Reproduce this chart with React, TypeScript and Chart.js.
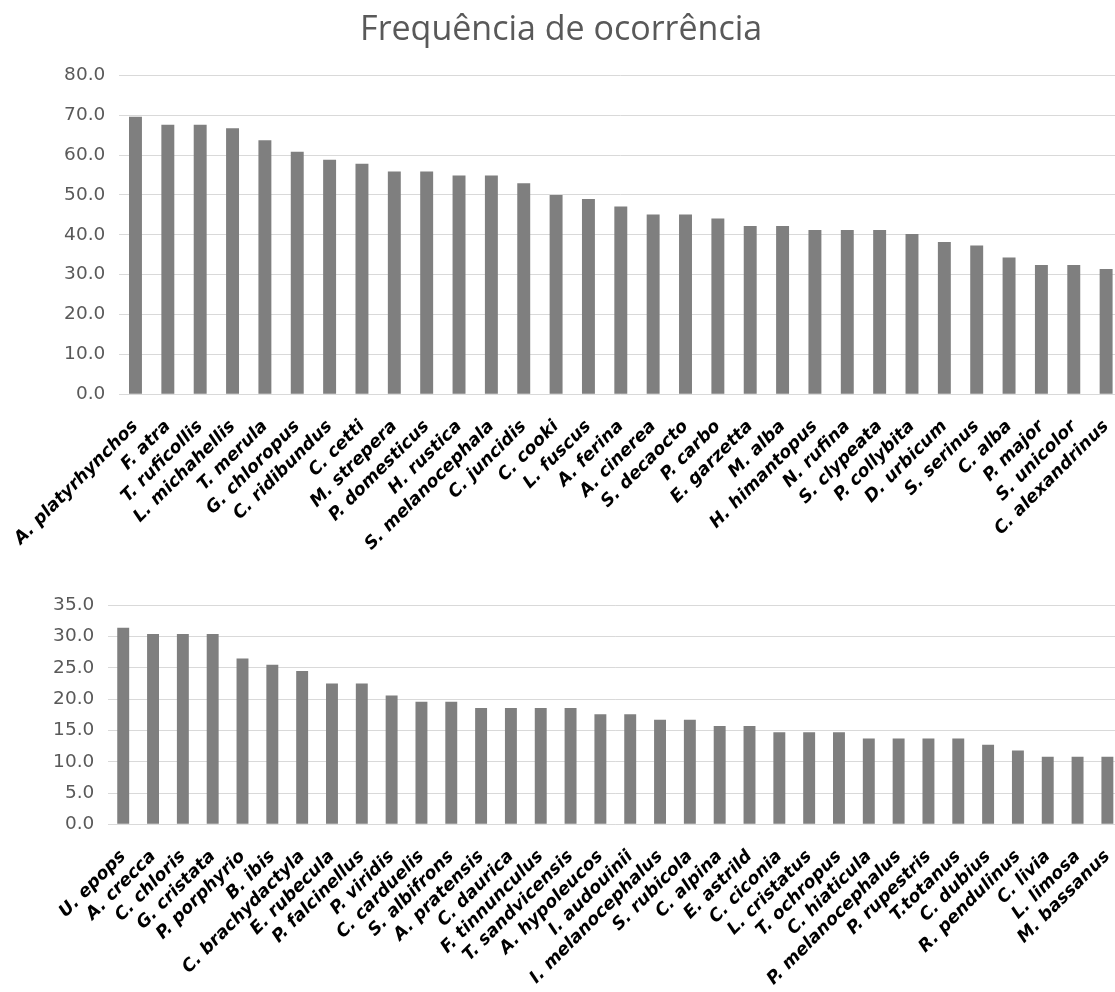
import React, { useEffect, useRef } from "react";
import { Chart, registerables } from "chart.js";

Chart.register(...registerables);

const chartTitle = "Frequência de ocorrência";

const topSpecies = [
  "A. platyrhynchos", "F. atra", "T. ruficollis", "L. michahellis", "T. merula",
  "G. chloropus", "C. ridibundus", "C. cetti", "M. strepera", "P. domesticus",
  "H. rustica", "S. melanocephala", "C. juncidis", "C. cooki", "L. fuscus",
  "A. ferina", "A. cinerea", "S. decaocto", "P. carbo", "E. garzetta",
  "M. alba", "H. himantopus", "N. rufina", "S. clypeata", "P. collybita",
  "D. urbicum", "S. serinus", "C. alba", "P. major", "S. unicolor",
  "C. alexandrinus",
];
const topValues = [
  69.6, 67.6, 67.6, 66.7, 63.7, 60.8, 58.8, 57.8, 55.9, 55.9,
  54.9, 54.9, 52.9, 50.0, 49.0, 47.1, 45.1, 45.1, 44.1, 42.2,
  42.2, 41.2, 41.2, 41.2, 40.2, 38.2, 37.3, 34.3, 32.4, 32.4,
  31.4,
];
const topAxisMax = 80;
const topAxisStep = 10;

const bottomSpecies = [
  "U. epops", "A. crecca", "C. chloris", "G. cristata", "P. porphyrio",
  "B. ibis", "C. brachydactyla", "E. rubecula", "P. falcinellus", "P. viridis",
  "C. carduelis", "S. albifrons", "A. pratensis", "C. daurica", "F. tinnunculus",
  "T. sandvicensis", "A. hypoleucos", "I. audouinii", "I. melanocephalus", "S. rubicola",
  "C. alpina", "E. astrild", "C. ciconia", "L. cristatus", "T. ochropus",
  "C. hiaticula", "P. melanocephalus", "P. rupestris", "T.totanus", "C. dubius",
  "R. pendulinus", "C. livia", "L. limosa", "M. bassanus",
];
const bottomValues = [
  31.4, 30.4, 30.4, 30.4, 26.5, 25.5, 24.5, 22.5, 22.5, 20.6,
  19.6, 19.6, 18.6, 18.6, 18.6, 18.6, 17.6, 17.6, 16.7, 16.7,
  15.7, 15.7, 14.7, 14.7, 14.7, 13.7, 13.7, 13.7, 13.7, 12.7,
  11.8, 10.8, 10.8, 10.8,
];
const bottomAxisMax = 35;
const bottomAxisStep = 5;

const BAR_COLOR = "#7f7f7f";
const GRID_COLOR = "#d9d9d9";
const AXIS_TEXT = "#595959";
const CANVAS_W = 1130;

type PanelProps = {
  labels: string[];
  values: number[];
  max: number;
  step: number;
  top: number;
  height: number;
  padTop: number;
  padRight: number;
  yWidth: number;
  xHeight: number;
  title?: string;
};

function BarPanel(p: PanelProps) {
  const ref = useRef<HTMLCanvasElement>(null);
  useEffect(() => {
    const chart = new Chart(ref.current as HTMLCanvasElement, {
      type: "bar",
      data: {
        labels: p.labels,
        datasets: [
          {
            data: p.values,
            backgroundColor: BAR_COLOR,
            barPercentage: 0.4,
            categoryPercentage: 1,
          },
        ],
      },
      options: {
        animation: false,
        responsive: false,
        maintainAspectRatio: false,
        devicePixelRatio: 1,
        layout: { padding: { top: p.padTop, right: p.padRight, left: 0, bottom: 0 } },
        plugins: {
          legend: { display: false },
          tooltip: { enabled: false },
          title: p.title
            ? {
                display: true,
                text: p.title,
                color: AXIS_TEXT,
                font: { family: "Open Sans", size: 34, weight: "normal" },
                padding: { top: 10.4, bottom: 24.1 },
              }
            : { display: false },
        },
        scales: {
          x: {
            grid: { display: false },
            border: { display: false },
            ticks: {
              autoSkip: false,
              minRotation: 45,
              maxRotation: 45,
              padding: 14,
              color: "#000000",
              font: { family: "DejaVu Sans", size: 17.5, weight: "bold", style: "oblique" },
            },
            afterFit: (s: any) => {
              s.height = p.xHeight;
              s.paddingLeft = 0;
              s.paddingRight = 0;
            },
          },
          y: {
            min: 0,
            max: p.max,
            ticks: {
              stepSize: p.step,
              padding: 14,
              color: AXIS_TEXT,
              font: { family: "DejaVu Sans", size: 18.5 },
              callback: (v: any) => Number(v).toFixed(1),
            },
            grid: { color: GRID_COLOR, lineWidth: 1, drawTicks: false },
            border: { display: false },
            afterFit: (s: any) => {
              s.width = p.yWidth;
              s.paddingTop = 0;
              s.paddingBottom = 0;
            },
          },
        },
      },
    } as any);
    return () => chart.destroy();
  }, []);
  return (
    <canvas
      ref={ref}
      width={CANVAS_W}
      height={p.height}
      style={{ position: "absolute", left: 0, top: p.top, width: CANVAS_W, height: p.height }}
    />
  );
}

export default function App() {
  return (
    <div
      style={{
        position: "absolute",
        left: 0,
        top: 0,
        width: 1115,
        height: 992,
        overflow: "hidden",
        background: "#ffffff",
      }}
    >
      <BarPanel
        labels={topSpecies}
        values={topValues}
        max={topAxisMax}
        step={topAxisStep}
        top={0}
        height={580}
        padTop={0}
        padRight={7.7}
        yWidth={119.3}
        xHeight={185.7}
        title={chartTitle}
      />
      <BarPanel
        labels={bottomSpecies}
        values={bottomValues}
        max={bottomAxisMax}
        step={bottomAxisStep}
        top={580}
        height={412}
        padTop={25.3}
        padRight={7.7}
        yWidth={108.3}
        xHeight={167.7}
      />
    </div>
  );
}
